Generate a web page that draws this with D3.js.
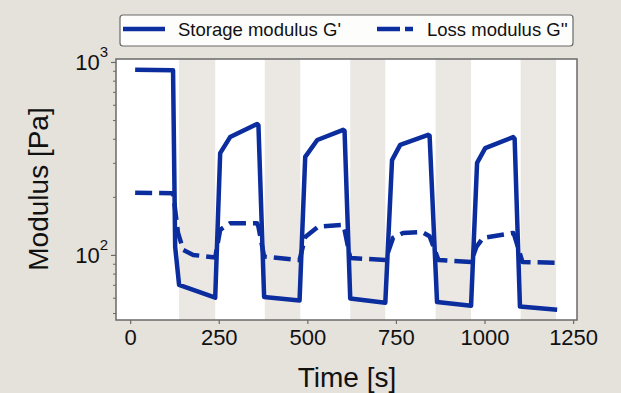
<!DOCTYPE html>
<html><head><meta charset="utf-8">
<script src="https://cdn.jsdelivr.net/npm/d3@7"></script>
<style>html,body{margin:0;padding:0;background:#e5e1db;}svg{display:block;font-family:"Liberation Sans",Arial,sans-serif;}</style>
</head><body>
<svg id="c" width="621" height="393"></svg>
<script>
// Data
const bands = [[138,240],[380,480],[621,720],[862,962],[1102,1202]];
const gpTime = [14,121,127,138,240,254,282,358,362,378,478,494,528,601,605,621,720,739,762,841,845,866,962,979,1002,1081,1085,1100,1205];
const gpVal  = [910,905,110,70,60,337,408,477,470,60.5,58,322,394,445,440,59.5,56.5,310,372,419,415,57,54.5,300,358,408,400,54,52];
const gppTime = [14,121,124,135,150,178,240,254,282,358,362,378,478,494,530,601,605,621,720,742,770,824,845,870,962,977,996,1081,1085,1107,1205];
const gppVal  = [210,209,190,130,106,100,97,135,146,146,140,98,94,124,140,143,135,96.5,94,122.6,130,131.5,125,94,92,110,122.6,130,125,92,91];
const xTicks = [0,250,500,750,1000,1250];
const yMajor = [100,1000];
const yMinor = [50,60,70,80,90,200,300,400,500,600,700,800,900];
const legendLabels = ["Storage modulus G'","Loss modulus G''"];

const svg = d3.select("#c");
const X0=116,X1=577,Y0=59,Y1=320;
const x = d3.scaleLinear().domain([-40,1261]).range([X0,X1]);
const y = d3.scaleLog().domain([46,1036]).range([Y1,Y0]);
const blue = "#0b2d9e";
const axisCol = "#6a6a6a";

svg.append("rect").attr("x",X0).attr("y",Y0).attr("width",X1-X0).attr("height",Y1-Y0).attr("fill","#ffffff");
svg.selectAll("rect.band").data(bands).enter().append("rect").attr("class","band")
  .attr("x",d=>x(d[0])).attr("width",d=>x(d[1])-x(d[0])).attr("y",Y0).attr("height",Y1-Y0).attr("fill","#ebe8e3");

const line = d3.line().x(d=>x(d[0])).y(d=>y(d[1]));
const gp = gpTime.map((t,i)=>[t,gpVal[i]]);
const gpp = gppTime.map((t,i)=>[t,gppVal[i]]);
svg.append("path").datum(gpp).attr("d",line).attr("fill","none").attr("stroke",blue)
  .attr("stroke-width",4.5).attr("stroke-dasharray","17,7").attr("stroke-linejoin","round");
svg.append("path").datum(gp).attr("d",line).attr("fill","none").attr("stroke",blue)
  .attr("stroke-width",4.5).attr("stroke-linejoin","round");

// frame
svg.append("rect").attr("x",X0).attr("y",Y0).attr("width",X1-X0).attr("height",Y1-Y0)
  .attr("fill","none").attr("stroke",axisCol).attr("stroke-width",1.5);

// x axis
const xa = svg.append("g").attr("transform",`translate(0,${Y1})`)
  .call(d3.axisBottom(x).tickValues(xTicks).tickSize(4).tickPadding(5).tickFormat(d3.format("d")));
xa.select(".domain").remove();
xa.selectAll("line").attr("stroke",axisCol).attr("stroke-width",1.2);
xa.selectAll("text").attr("font-size",22).attr("fill","#111").attr("font-family","Liberation Sans, Arial, sans-serif");

// y axis
const ya = svg.append("g").attr("transform",`translate(${X0},0)`)
  .call(d3.axisLeft(y).tickValues(yMajor).tickSize(5).tickFormat(""));
ya.select(".domain").remove();
ya.selectAll("line").attr("stroke",axisCol).attr("stroke-width",1.2);
const ym = svg.append("g").attr("transform",`translate(${X0},0)`)
  .call(d3.axisLeft(y).tickValues(yMinor).tickSize(3).tickFormat(""));
ym.select(".domain").remove();
ym.selectAll("line").attr("stroke",axisCol).attr("stroke-width",1);
yMajor.forEach(v=>{
  const t = svg.append("text").attr("x",X0-8).attr("y",y(v)+8).attr("text-anchor","end")
    .attr("font-size",22).attr("fill","#111");
  t.append("tspan").text("10");
  t.append("tspan").attr("font-size",15).attr("dy",-13).text(Math.round(Math.log10(v)));
});

// axis titles
svg.append("text").attr("x",347).attr("y",387).attr("text-anchor","middle").attr("font-size",28).attr("fill","#111").text("Time [s]");
svg.append("text").attr("transform","translate(48,189) rotate(-90)").attr("text-anchor","middle").attr("font-size",28).attr("fill","#111").text("Modulus [Pa]");

// legend
const lg = svg.append("g");
lg.append("rect").attr("x",120).attr("y",15).attr("width",453).attr("height",31).attr("rx",3)
  .attr("fill","#fdfdfc").attr("stroke","#6a6a6a").attr("stroke-width",1.2);
lg.append("line").attr("x1",123).attr("x2",165).attr("y1",29).attr("y2",29).attr("stroke",blue).attr("stroke-width",4.5);
lg.append("text").attr("x",178).attr("y",36).attr("font-size",18.5).attr("fill","#111").text(legendLabels[0]);
lg.append("line").attr("x1",377).attr("x2",413).attr("y1",29).attr("y2",29).attr("stroke",blue).attr("stroke-width",4.5).attr("stroke-dasharray","23,5,8,100");
lg.append("text").attr("x",427).attr("y",36).attr("font-size",18.5).attr("fill","#111").text(legendLabels[1]);
</script>
</body></html>
